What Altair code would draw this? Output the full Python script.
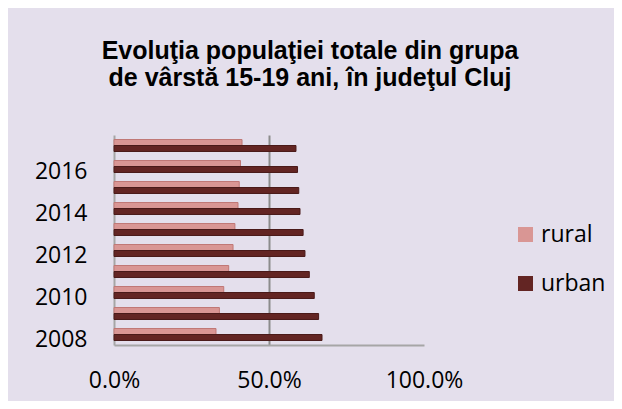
import altair as alt
import pandas as pd

years = [2008, 2009, 2010, 2011, 2012, 2013, 2014, 2015, 2016, 2017]
rural = [32.9, 34.0, 35.4, 37.0, 38.4, 39.0, 40.0, 40.4, 40.8, 41.3]
urban = [67.1, 66.0, 64.6, 63.0, 61.6, 61.0, 60.0, 59.6, 59.2, 58.7]
series = ["rural", "urban"]
colors = ["#d99694", "#632523"]
x_ticks = [0, 50, 100]
title_lines = ["Evoluţia populaţiei totale din grupa", "de vârstă 15-19 ani, în judeţul Cluj"]

rows = []
for i, y in enumerate(years):
    rows.append({"an": str(y), "mediu": "rural", "pct": rural[i]})
    rows.append({"an": str(y), "mediu": "urban", "pct": urban[i]})
df = pd.DataFrame(rows)

FONT = "Open Sans"

chart = alt.Chart(df).mark_bar(strokeWidth=1).encode(
    y=alt.Y("an:N", sort="descending",
            scale=alt.Scale(paddingInner=0.43, paddingOuter=0.215),
            axis=alt.Axis(title=None, ticks=False, tickSize=0, labelPadding=27,
                          labelOffset=5, labelFont=FONT, labelFontSize=23,
                          labelColor="#000000",
                          labelExpr="toNumber(datum.value) % 2 == 0 ? datum.value : ''",
                          domain=True, domainColor="#a6a6a6", domainWidth=2, grid=False)),
    yOffset=alt.YOffset("mediu:N", sort=series),
    x=alt.X("pct:Q", scale=alt.Scale(domain=[0, 100], nice=False),
            axis=alt.Axis(title=None, values=x_ticks, ticks=False, tickSize=0,
                          labelPadding=24, labelFont=FONT, labelFontSize=23,
                          labelColor="#000000", labelFlush=False,
                          labelExpr="format(datum.value, '.1f') + '%'",
                          domain=True, domainColor="#a6a6a6", domainWidth=2,
                          grid=True, gridColor="#8c8c8c", gridWidth=2,
                          gridOpacity=alt.ExprRef("datum.value == 50 ? 1 : 0"))),
    color=alt.Color("mediu:N", sort=series,
                    scale=alt.Scale(domain=series, range=colors),
                    legend=alt.Legend(title=None, orient="none", legendX=400, legendY=88,
                                      symbolType="square", symbolSize=225,
                                      symbolStrokeWidth=0, labelFont=FONT,
                                      labelFontSize=23, labelColor="#000000",
                                      rowPadding=25, padding=0, labelOffset=4)),
    stroke=alt.Stroke("mediu:N", sort=series,
                      scale=alt.Scale(domain=series, range=["#c07876", "#4a1a19"]),
                      legend=None),
).properties(
    width=310,
    height=210,
    padding={"left": 106, "top": 127, "right": 190, "bottom": 56},
    autosize=alt.AutoSizeParams(type="none"),
    background="#e4dfec",
    title=alt.TitleParams(text=title_lines, font="Liberation Sans", fontSize=25,
                          fontWeight="bold", color="#000000", anchor="middle",
                          frame="group", dx=41, offset=44, lineHeight=27),
).configure_view(stroke=None)

chart.save("out.html", embed_options={"renderer": "svg", "actions": False})
